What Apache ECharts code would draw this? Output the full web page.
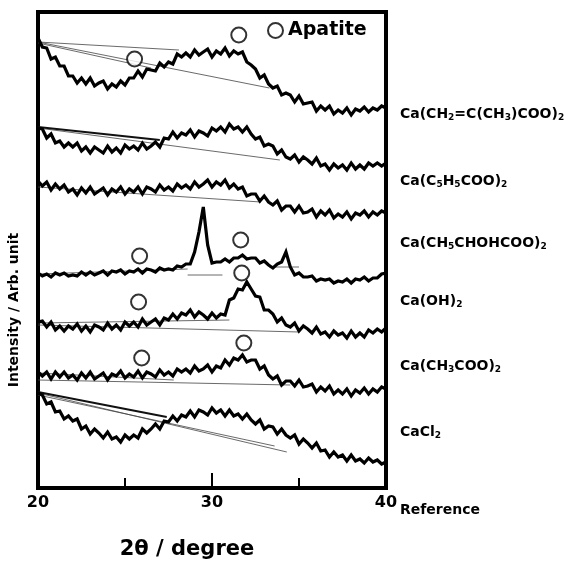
<!DOCTYPE html>
<html>
<head>
<meta charset="utf-8">
<script src="https://cdn.jsdelivr.net/npm/echarts@6/dist/echarts.min.js"></script>
<style>
html, body { margin: 0; padding: 0; background: #fff; }
#chart { width: 575px; height: 567px; }
</style>
</head>
<body>
<div id="chart"></div>
<script>
// 2theta sampling (degree)
const twoTheta = [
  20, 20.25, 20.5, 20.75, 21, 21.25, 21.5, 21.75, 22, 22.25, 22.5, 22.75, 23, 23.25, 23.5, 23.75,
  24, 24.25, 24.5, 24.75, 25, 25.25, 25.5, 25.75, 26, 26.25, 26.5, 26.75, 27, 27.25, 27.5, 27.75,
  28, 28.25, 28.5, 28.75, 29, 29.25, 29.5, 29.75, 30, 30.25, 30.5, 30.75, 31, 31.25, 31.5, 31.75,
  32, 32.25, 32.5, 32.75, 33, 33.25, 33.5, 33.75, 34, 34.25, 34.5, 34.75, 35, 35.25, 35.5, 35.75,
  36, 36.25, 36.5, 36.75, 37, 37.25, 37.5, 37.75, 38, 38.25, 38.5, 38.75, 39, 39.25, 39.5, 39.75, 40
]

// intensities (arb. unit, traces stacked with offsets as in the figure), top to bottom
const methacrylate = [
  450, 441, 440, 429, 431, 422, 422, 412, 412, 405, 410, 404, 410, 402, 405, 407,
  399, 404, 401, 407, 403, 410, 410, 417, 411, 419, 418, 417, 425, 421, 426, 424,
  434, 431, 435, 431, 438, 433, 436, 439, 431, 437, 434, 440, 432, 437, 434, 436,
  426, 423, 419, 410, 413, 404, 400, 402, 393, 395, 393, 386, 392, 384, 385, 386,
  377, 382, 378, 382, 374, 378, 375, 380, 373, 379, 377, 381, 376, 380, 378, 382, 380
]
const benzoate = [
  360, 359, 350, 354, 345, 347, 341, 345, 341, 345, 337, 341, 335, 341, 338, 335,
  342, 336, 340, 335, 343, 339, 342, 338, 345, 339, 342, 346, 341, 350, 349, 356,
  350, 355, 353, 358, 351, 357, 355, 352, 360, 357, 361, 356, 364, 359, 361, 356,
  361, 354, 349, 351, 342, 344, 342, 334, 338, 331, 329, 333, 326, 331, 328, 324,
  330, 322, 324, 318, 324, 320, 323, 318, 325, 319, 323, 319, 325, 322, 325, 322, 325
]
const lactate = [
  307, 302, 306, 298, 304, 299, 303, 296, 299, 293, 300, 295, 301, 294, 297, 300,
  293, 299, 296, 301, 294, 299, 296, 301, 294, 301, 299, 296, 303, 298, 301, 297,
  304, 300, 303, 299, 306, 301, 304, 308, 301, 306, 303, 308, 300, 304, 299, 301,
  292, 294, 294, 287, 292, 286, 283, 287, 278, 282, 282, 276, 282, 275, 276, 279,
  271, 277, 273, 278, 270, 274, 271, 276, 269, 275, 273, 277, 271, 276, 273, 277, 275
]
const hydroxide = [
  215, 212, 214, 211, 215, 213, 215, 212, 213, 212, 216, 213, 216, 213, 215, 217,
  213, 217, 216, 218, 214, 217, 216, 219, 215, 219, 218, 216, 220, 218, 219, 218,
  222, 221, 224, 224, 236, 256, 281, 243, 225, 226, 226, 229, 226, 230, 230, 233,
  229, 230, 230, 225, 227, 223, 220, 224, 226, 236, 221, 213, 215, 211, 211, 212,
  207, 209, 208, 209, 205, 207, 206, 209, 205, 209, 208, 211, 207, 210, 210, 214, 215
]
const acetate = [
  166, 167, 161, 166, 158, 162, 157, 162, 159, 164, 157, 162, 156, 163, 161, 158,
  165, 159, 163, 158, 166, 162, 166, 161, 169, 163, 166, 169, 163, 170, 168, 174,
  169, 175, 173, 178, 171, 176, 173, 169, 175, 170, 174, 173, 188, 190, 199, 198,
  206, 199, 192, 191, 178, 178, 174, 166, 170, 163, 161, 165, 157, 162, 159, 155,
  161, 154, 156, 151, 157, 153, 155, 150, 157, 151, 155, 151, 158, 155, 159, 156, 160
]
const chloride = [
  116, 112, 116, 109, 116, 111, 116, 110, 113, 108, 115, 110, 116, 109, 112, 115,
  108, 114, 112, 117, 110, 114, 111, 117, 110, 116, 114, 111, 118, 113, 116, 112,
  119, 116, 119, 115, 122, 117, 119, 123, 116, 122, 120, 128, 123, 130, 128, 133,
  126, 128, 128, 119, 122, 113, 109, 112, 103, 107, 107, 102, 108, 101, 102, 104,
  96, 101, 97, 102, 94, 98, 94, 99, 92, 98, 95, 100, 94, 99, 96, 101, 99
]
const reference = [
  95, 93, 84, 86, 76, 77, 69, 72, 67, 69, 59, 62, 54, 59, 55, 50,
  56, 49, 51, 46, 53, 49, 53, 50, 59, 55, 59, 64, 59, 67, 66, 72,
  67, 73, 71, 77, 71, 78, 76, 73, 80, 75, 78, 72, 78, 72, 74, 69,
  74, 68, 64, 68, 59, 62, 61, 54, 59, 53, 50, 53, 44, 49, 45, 40,
  45, 37, 38, 31, 36, 31, 33, 27, 33, 27, 29, 25, 30, 26, 28, 24, 26
]
const traces = [methacrylate, benzoate, lactate, hydroxide, acetate, chloride, reference]

// hand-drawn background lines under the humps: [start, end]
const baselinesThin = [
  [[20, 446], [33.3, 400]], [[20, 446], [28.1, 438]], [[20, 445], [26.5, 420]],
  [[20, 360], [33.9, 328]],
  [[20, 301], [32.8, 286]],
  [[20, 214], [28.6, 219]], [[28.6, 213], [30.6, 213]], [[33.3, 221], [35.0, 221]],
  [[20, 163], [35.0, 156]], [[20, 165], [31.0, 168]],
  [[20, 115], [27.8, 108]], [[20, 108], [34.5, 103]],
  [[20, 95], [34.3, 36]], [[20, 93], [33.6, 42]]
]
const baselinesThick = [
  [[20, 361], [27.0, 348]],
  [[20, 96], [27.4, 71]]
]

// apatite markers [2theta, intensity]
const apatiteMarks = [
  [25.55, 429], [31.54, 453],
  [25.84, 232], [31.65, 248],
  [25.78, 186], [31.71, 215],
  [25.96, 130], [31.83, 145]
]

// sample labels (rich text, s = subscript) and their pixel rows
const sampleLabels = [
  'Ca(CH{s|2}=C(CH{s|3})COO){s|2}',
  'Ca(C{s|5}H{s|5}COO){s|2}',
  'Ca(CH{s|5}CHOHCOO){s|2}',
  'Ca(OH){s|2}',
  'Ca(CH{s|3}COO){s|2}',
  'CaCl{s|2}',
  'Reference'
]
const labelRows = [114, 181, 243, 301, 366, 432, 510]

const FONT = '"DejaVu Sans", "Liberation Sans", Arial, sans-serif'

const chart = echarts.init(document.getElementById('chart'))

const series = []
traces.forEach(t => {
  series.push({
    type: 'line',
    data: t.map((v, i) => [twoTheta[i], v]),
    showSymbol: false,
    lineStyle: { color: '#000', width: 3.2, join: 'miter', miterLimit: 3 },
    z: 3
  })
})
baselinesThin.forEach(b => {
  series.push({ type: 'line', data: b, showSymbol: false, lineStyle: { color: '#444', width: 0.8 }, z: 2 })
})
baselinesThick.forEach(b => {
  series.push({ type: 'line', data: b, showSymbol: false, lineStyle: { color: '#111', width: 1.8 }, z: 2 })
})
series.push({
  name: 'Apatite',
  type: 'scatter',
  data: apatiteMarks,
  symbol: 'circle',
  symbolSize: 15,
  itemStyle: { color: '#fff', borderColor: '#000', borderWidth: 2 },
  z: 5
})

chart.setOption({
  animation: false,
  backgroundColor: '#fff',
  grid: { left: 38, right: 189, top: 12, bottom: 79, show: true, borderColor: '#000', borderWidth: 4 },
  legend: {
    data: ['Apatite'],
    left: 262, top: 16,
    icon: 'circle',
    itemWidth: 15, itemHeight: 15,
    itemStyle: { color: '#fff', borderColor: '#000', borderWidth: 2 },
    textStyle: { fontFamily: FONT, fontWeight: 'bold', fontSize: 19, color: '#000' }
  },
  xAxis: [
    {
      type: 'value', min: 20, max: 40, interval: 5,
      axisLine: { show: false, onZero: false },
      axisTick: { inside: true, length: 10, lineStyle: { color: '#000', width: 2 } },
      splitLine: { show: false },
      axisLabel: {
        formatter: v => (v % 10 === 0 ? String(v) : ''),
        fontFamily: FONT, fontWeight: 'bold', fontSize: 16, color: '#000', margin: 7
      }
    },
    {
      type: 'value', min: 20, max: 40, interval: 10, position: 'bottom',
      axisLine: { show: false, onZero: false },
      axisTick: { inside: true, length: 15, lineStyle: { color: '#000', width: 2 } },
      splitLine: { show: false },
      axisLabel: { show: false }
    }
  ],
  yAxis: { type: 'value', min: 0, max: 476, show: false },
  series: series,
  graphic: [
    {
      type: 'text', x: 187, y: 550,
      style: { text: '2θ / degree', font: 'bold 21px ' + FONT, fill: '#000', align: 'center', verticalAlign: 'middle' }
    },
    {
      type: 'text', x: 14, y: 310, rotation: Math.PI / 2,
      style: { text: 'Intensity / Arb. unit', font: 'bold 14px ' + FONT, fill: '#000', align: 'center', verticalAlign: 'middle' }
    }
  ].concat(sampleLabels.map((s, i) => ({
    type: 'text', x: 400, y: labelRows[i],
    style: {
      text: s, font: 'bold 14px ' + FONT, fill: '#000', align: 'left', verticalAlign: 'middle', lineHeight: 17,
      rich: { s: { font: 'bold 9px ' + FONT, fill: '#000', lineHeight: 9, verticalAlign: 'bottom' } }
    }
  })))
})
</script>
</body>
</html>
